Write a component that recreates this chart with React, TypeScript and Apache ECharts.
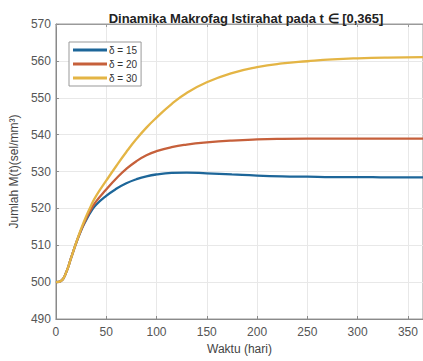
import React, { useEffect, useRef } from "react";
import * as echarts from "echarts";

const title = "Dinamika Makrofag Istirahat pada t ∈ [0,365]";
const xName = "Waktu (hari)";
const yName = "Jumlah M(t)(sel/mm³)";
const seriesNames = ["δ = 15", "δ = 20", "δ = 30"];
const colors = ["#1d6699", "#c6603b", "#e4b545"];

const timeDays = [0, 5, 10, 15, 20, 25, 30, 35, 40, 50, 60, 70, 80, 90, 100, 115, 130, 150, 175, 200, 225, 250, 275, 300, 330, 365];
const delta15 = [500, 500.3, 502.5, 506.5, 510.5, 514.0, 516.8, 519.2, 521.0, 523.4, 525.3, 526.8, 527.9, 528.7, 529.2, 529.6, 529.7, 529.5, 529.2, 528.9, 528.7, 528.6, 528.5, 528.5, 528.4, 528.4];
const delta20 = [500, 500.3, 502.5, 506.5, 510.5, 514.1, 517.2, 519.8, 521.9, 525.1, 528.1, 530.7, 532.8, 534.4, 535.5, 536.6, 537.3, 537.9, 538.4, 538.7, 538.85, 538.9, 538.9, 538.9, 538.9, 538.9];
const delta30 = [500, 500.3, 502.5, 506.5, 510.6, 514.4, 517.8, 520.8, 523.4, 527.5, 531.5, 535.3, 538.8, 541.9, 544.6, 548.3, 551.3, 554.2, 556.7, 558.3, 559.3, 559.9, 560.4, 560.7, 560.9, 561.0];

export default function App() {
  const ref = useRef<HTMLDivElement>(null);
  useEffect(() => {
    if (!ref.current) return;
    const chart = echarts.init(ref.current, null, { renderer: "svg" });
    const all = [delta15, delta20, delta30];
    const font = "'Liberation Sans', Arial, Helvetica, sans-serif";
    chart.setOption({
      animation: false,
      backgroundColor: "#ffffff",
      textStyle: { fontFamily: font },
      title: {
        text: title,
        left: 241,
        textAlign: "center",
        top: 7,
        textStyle: { fontSize: 13, fontWeight: "bold", color: "#222", fontFamily: font },
      },
      legend: {
        orient: "vertical",
        left: 69,
        top: 42,
        itemWidth: 34,
        itemHeight: 3,
        itemGap: 4,
        padding: [3, 4, 3, 4],
        borderColor: "#999",
        borderWidth: 1,
        backgroundColor: "#fff",
        icon: "rect",
        textStyle: { fontSize: 10, color: "#333", fontFamily: font, padding: [0, 0, 0, -3] },
        data: seriesNames,
      },
      grid: {
        left: 55,
        top: 24,
        bottom: 42,
        right: -6,
        show: true,
        borderColor: "#9a9a9a",
        borderWidth: 1,
      },
      xAxis: [
        {
          type: "value",
          min: 0,
          max: 365,
          interval: 50,
          name: xName,
          nameLocation: "middle",
          nameGap: 24,
          nameTextStyle: { fontSize: 12, color: "#444", fontFamily: font },
          axisLine: { show: true, lineStyle: { color: "#8a8a8a" } },
          axisTick: { show: true, inside: true, length: 3, lineStyle: { color: "#8a8a8a" } },
          axisLabel: { fontSize: 12, color: "#555", margin: 7, showMaxLabel: false, fontFamily: font },
          splitLine: { show: true, lineStyle: { color: "#e8e8e8" } },
        },
        {
          type: "value",
          position: "top",
          min: 0,
          max: 365,
          interval: 50,
          axisLine: { show: true, lineStyle: { color: "#9a9a9a" } },
          axisTick: { show: true, inside: true, length: 3, lineStyle: { color: "#9a9a9a" } },
          axisLabel: { show: false },
          splitLine: { show: false },
        },
      ],
      yAxis: {
        type: "value",
        min: 490,
        max: 570,
        interval: 10,
        name: yName,
        nameLocation: "middle",
        nameGap: 26,
        nameTextStyle: { fontSize: 12, color: "#444", fontFamily: font },
        axisLine: { show: true, lineStyle: { color: "#8a8a8a" } },
        axisTick: { show: true, inside: true, length: 3, lineStyle: { color: "#8a8a8a" } },
        axisLabel: { fontSize: 12, color: "#555", margin: 5, fontFamily: font },
        splitLine: { show: true, lineStyle: { color: "#e8e8e8" } },
      },
      series: seriesNames.map((name, i) => ({
        name,
        type: "line",
        xAxisIndex: 0,
        data: timeDays.map((t, j) => [t, all[i][j]]),
        smooth: 0.5,
        showSymbol: false,
        symbol: "none",
        lineStyle: { width: 2.3, color: colors[i] },
        itemStyle: { color: colors[i] },
        z: 2 + i,
      })),
    });
    return () => chart.dispose();
  }, []);
  return (
    <div
      ref={ref}
      style={{ position: "fixed", left: 0, top: 0, width: 423, height: 361 }}
    />
  );
}
